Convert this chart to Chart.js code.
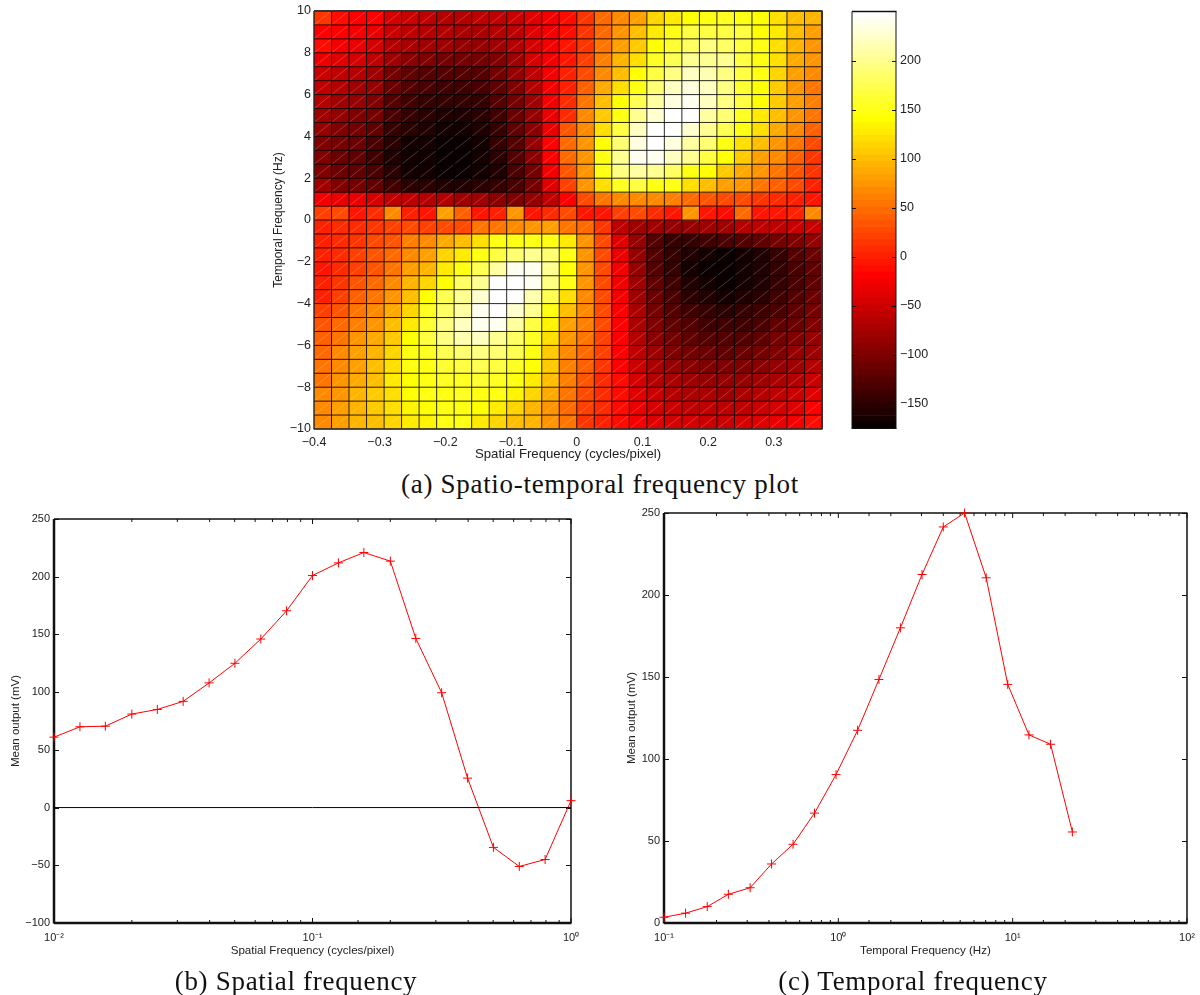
<!DOCTYPE html>
<html>
<head>
<meta charset="utf-8">
<script src="https://cdn.jsdelivr.net/npm/chart.js@4"></script>
<style>
  html, body { margin: 0; padding: 0; background: #fff; }
  body { position: relative; width: 1200px; height: 995px; overflow: hidden; }
  canvas { position: absolute; }
  .caption {
    position: absolute;
    transform: translateX(-50%);
    white-space: nowrap;
    font-family: "Liberation Serif", serif;
    font-size: 27px;
    letter-spacing: 0.7px;
    color: #111;
  }
</style>
</head>
<body>
<canvas id="heat" width="580" height="468" style="left:268px;top:0"></canvas>
<canvas id="colorbar" width="110" height="440" style="left:845px;top:0"></canvas>
<canvas id="spatial" width="600" height="462" style="left:0;top:505px"></canvas>
<canvas id="temporal" width="600" height="465" style="left:610px;top:502px"></canvas>
<div class="caption" style="left:600px;top:469px">(a) Spatio-temporal frequency plot</div>
<div class="caption" style="left:296px;top:966px">(b) Spatial frequency</div>
<div class="caption" style="left:913px;top:966px">(c) Temporal frequency</div>
<script>
// cell edges of the spatio-temporal plot
const spatialEdges = [-0.4, -0.3733, -0.3467, -0.32, -0.2933, -0.2667, -0.24, -0.2133, -0.1867, -0.16, -0.1333, -0.1067, -0.08, -0.0533, -0.0267, 0, 0.0267, 0.0533, 0.08, 0.1067, 0.1333, 0.16, 0.1867, 0.2133, 0.24, 0.2667, 0.2933, 0.32, 0.3467, 0.3733];
const temporalEdges = [10, 9.333, 8.667, 8, 7.333, 6.667, 6, 5.333, 4.667, 4, 3.333, 2.667, 2, 1.333, 0.667, 0, -0.667, -1.333, -2, -2.667, -3.333, -4, -4.667, -5.333, -6, -6.667, -7.333, -8, -8.667, -9.333, -10];

// mean output per cell, top row first
const heatRows = [
  [15,-15,-16,-22,-48,-55,-60,-64,-66,-62,-58,-50,-38,-24,-12, 16,50,67,83,115,130,143,148,154,148,143,119,103,92],
  [-16,-21,-24,-32,-51,-61,-64,-67,-72,-72,-67,-56,-40,-24,-10, 13,50,76,98,124,146,165,170,170,165,143,124,98,83],
  [-12,-29,-32,-45,-64,-72,-77,-80,-83,-83,-77,-64,-45,-24,-8, 16,55,83,108,143,162,180,191,180,165,145,119,92,76],
  [-32,-40,-48,-61,-80,-92,-99,-104,-108,-108,-96,-77,-48,-24,-6, 19,60,92,119,152,175,197,202,197,170,146,119,87,71],
  [-51,-61,-67,-80,-104,-120,-124,-128,-128,-124,-108,-88,-61,-24,0, 24,67,103,143,165,191,218,213,191,170,144,114,83,64],
  [-56,-67,-77,-88,-112,-128,-134,-137,-137,-134,-120,-96,-67,-24,3, 40,84,119,148,186,218,234,218,191,159,140,108,76,55],
  [-67,-77,-83,-96,-123,-137,-144,-148,-147,-144,-128,-104,-77,-29,6, 51,98,139,175,207,234,240,218,191,165,143,108,80,60],
  [-77,-83,-96,-108,-131,-147,-152,-156,-156,-152,-136,-112,-88,-32,8, 64,108,148,197,229,250,245,207,186,156,130,98,71,51],
  [-88,-96,-104,-120,-144,-155,-160,-164,-163,-156,-144,-120,-92,-35,32, 64,119,165,218,250,250,229,197,175,146,119,87,64,40],
  [-96,-108,-115,-131,-153,-164,-166,-171,-175,-164,-148,-123,-88,-16,48, 71,143,186,234,250,234,207,186,148,119,98,76,51,24],
  [-99,-115,-120,-136,-156,-166,-167,-172,-175,-166,-152,-128,-92,-16,44, 76,146,197,243,240,223,197,170,140,108,83,64,40,16],
  [-96,-112,-120,-131,-152,-163,-166,-171,-169,-167,-156,-132,-104,-29,35, 76,145,191,207,202,180,148,140,108,87,71,51,32,16],
  [-80,-99,-108,-120,-136,-152,-153,-160,-156,-152,-144,-131,-108,-40,19, 71,119,154,165,146,148,119,98,83,71,55,40,24,3],
  [-24,-32,-35,-45,-56,-61,-64,-67,-77,-80,-92,-96,-83,-56,-16, 24,51,64,67,64,60,48,35,29,24,13,6,0,-3],
  [22,28,-8,8,70,2,-4,78,38,-6,-2,72,-6,10,30, -5,-5,20,28,5,-8,72,-8,-12,45,-6,-8,0,70],
  [3,8,8,16,19,24,19,24,29,51,55,64,76,83,55, 45,16,-56,-77,-80,-84,-84,-80,-77,-65,-62,-56,-52,-50],
  [0,8,13,28,32,60,64,87,103,119,145,146,148,148,124, 71,24,-40,-88,-128,-144,-147,-140,-132,-128,-120,-104,-96,-88],
  [0,8,19,32,44,67,83,111,127,148,170,186,197,186,145, 71,28,-32,-88,-128,-147,-160,-167,-170,-163,-156,-144,-128,-112],
  [-3,8,19,35,51,83,95,127,146,175,207,240,238,197,143, 71,30,-28,-83,-124,-144,-163,-173,-172,-163,-156,-144,-131,-120],
  [0,16,32,44,67,92,111,143,180,202,245,250,238,191,144, 71,30,-26,-80,-120,-140,-158,-165,-174,-168,-158,-146,-132,-118],
  [3,19,40,55,76,103,143,175,197,229,250,250,213,175,119, 68,28,-24,-78,-115,-135,-150,-160,-165,-160,-150,-140,-125,-112],
  [19,32,51,67,87,111,154,180,207,240,250,229,197,145,103, 64,26,-22,-74,-108,-125,-138,-148,-152,-148,-140,-130,-118,-105],
  [32,44,60,76,98,127,159,191,218,240,238,207,170,135,80, 60,24,-20,-70,-100,-116,-128,-136,-142,-138,-130,-120,-110,-98],
  [40,55,71,87,108,143,165,191,213,218,202,180,154,119,71, 55,20,-18,-64,-92,-106,-118,-124,-128,-124,-118,-108,-98,-88],
  [48,64,80,95,114,146,156,175,186,191,186,175,148,110,66, 48,18,-16,-58,-82,-96,-106,-112,-116,-112,-106,-98,-88,-78],
  [51,67,83,98,119,146,148,159,170,175,165,154,143,105,62, 42,14,-16,-52,-74,-84,-94,-98,-102,-100,-94,-86,-76,-66],
  [55,71,87,103,124,143,145,154,156,159,156,145,130,100,58, 36,10,-15,-46,-64,-74,-82,-86,-88,-86,-82,-74,-64,-54],
  [64,76,92,108,119,140,144,148,152,148,145,135,114,87,52, 30,8,-14,-40,-54,-64,-70,-74,-76,-74,-68,-60,-50,-38],
  [67,83,95,108,119,135,143,146,145,140,130,114,95,71,44, 22,6,-13,-32,-46,-54,-58,-62,-62,-60,-54,-46,-36,-18],
  [67,80,92,103,114,127,135,146,146,124,114,103,92,76,51, 16,4,-10,-24,-36,-44,-48,-50,-50,-48,-42,-34,-24,-14]
];

const spatialTicks = [-0.4, -0.3, -0.2, -0.1, 0, 0.1, 0.2, 0.3];
const temporalTicks = [-10, -8, -6, -4, -2, 0, 2, 4, 6, 8, 10];
const colorbarTicks = [-150, -100, -50, 0, 50, 100, 150, 200];
const heatMin = -175.5;
const heatMax = 250;

// (b) spatial frequency tuning
const spatialFreq = [0.01, 0.0126, 0.0158, 0.02, 0.0251, 0.0316, 0.0398, 0.0501, 0.0631, 0.0794, 0.1, 0.126, 0.158, 0.2, 0.251, 0.316, 0.398, 0.501, 0.631, 0.794, 1];
const spatialOutput = [61, 70, 70.5, 81, 85, 92, 108, 125, 146, 170.5, 201, 212, 221, 213.5, 146.5, 99.5, 25.5, -34.5, -51, -45, 6];
const zeroLineX = [0.01, 1];
const zeroLineY = [0, 0];

// (c) temporal frequency tuning
const temporalFreq = [0.1, 0.133, 0.177, 0.234, 0.312, 0.414, 0.55, 0.73, 0.97, 1.29, 1.71, 2.27, 3.02, 4.0, 5.3, 7.05, 9.37, 12.4, 16.5, 22];
const temporalOutput = [3.5, 6, 10, 17.5, 21.5, 36, 48, 67, 90.5, 117.5, 148.5, 180, 212.5, 241.5, 250, 210.5, 145.5, 114.7, 109, 55.5];

const fontFamily = '"Liberation Sans", Arial, sans-serif';
const textColor = '#222';
const hiddenGrid = { display: false, drawTicks: false };

Chart.defaults.animation = false;
Chart.defaults.responsive = false;
Chart.defaults.devicePixelRatio = 1;
Chart.defaults.font.family = fontFamily;
Chart.defaults.color = textColor;
Chart.defaults.plugins.legend.display = false;
Chart.defaults.plugins.tooltip.enabled = false;

// MATLAB hot(64)
const hotColor = function(index) {
  const r = Math.min((index + 1) / 24, 1);
  const g = Math.min(Math.max((index + 1 - 24) / 24, 0), 1);
  const b = Math.max((index + 1 - 48) / 16, 0);
  return `rgb(${Math.round(r * 255)},${Math.round(g * 255)},${Math.round(b * 255)})`;
}

const colorForValue = function(value) {
  const index = Math.floor((value - heatMin) / (heatMax - heatMin) * 64);
  return hotColor(Math.min(Math.max(index, 0), 63));
}

const minusLabel = (value) => String(value).replace('-', '\u2212');

const superDigits = { '-': '\u207b', '0': '\u2070', '1': '\u00b9', '2': '\u00b2' };
const decadeLabel = function(value) {
  const power = Math.log10(value);
  if (Math.abs(power - Math.round(power)) > 1e-9) { return ''; }
  return '10' + String(Math.round(power)).split('').map((c) => superDigits[c]).join('');
}

const drawFrame = function(chart, sides) {
  const { ctx, chartArea: area } = chart;
  ctx.save();
  ctx.strokeStyle = sides.color;
  const line = (x0, y0, x1, y1, width) => {
    ctx.lineWidth = width;
    ctx.beginPath();
    ctx.moveTo(x0, y0);
    ctx.lineTo(x1, y1);
    ctx.stroke();
  };
  line(area.left, area.top, area.right + 0.5, area.top, sides.top);
  line(area.right, area.top, area.right, area.bottom, sides.right);
  line(area.left, area.bottom, area.right + 0.5, area.bottom, sides.bottom);
  line(area.left, area.top, area.left, area.bottom + 0.5, sides.left);
  ctx.restore();
}

// ticks point inwards on all four sides, as in MATLAB
const drawInnerTicks = function(chart, major, minor) {
  const { ctx, chartArea: area, scales } = chart;
  ctx.save();
  ctx.strokeStyle = '#111';
  ctx.lineWidth = 1;
  ctx.beginPath();
  if (scales.x && scales.x.type === 'logarithmic') {
    scales.x.ticks.forEach((tick) => {
      const x = scales.x.getPixelForValue(tick.value);
      const size = decadeLabel(tick.value) ? major : minor;
      ctx.moveTo(x, area.top);
      ctx.lineTo(x, area.top + size);
      ctx.moveTo(x, area.bottom);
      ctx.lineTo(x, area.bottom - size);
    });
  }
  scales.y.ticks.forEach((tick) => {
    const y = Math.round(scales.y.getPixelForValue(tick.value)) + 0.5;
    ctx.moveTo(area.left, y);
    ctx.lineTo(area.left + major, y);
    ctx.moveTo(area.right, y);
    ctx.lineTo(area.right - major, y);
  });
  ctx.stroke();
  ctx.restore();
}

const cellLines = {
  id: 'cellLines',
  afterDatasetsDraw(chart) {
    const { ctx, chartArea: area, scales } = chart;
    const xs = spatialEdges.map((v) => scales.x.getPixelForValue(v));
    const ys = temporalEdges.map((v) => scales.y.getPixelForValue(v));
    ctx.save();
    ctx.lineWidth = 0.7;
    ctx.strokeStyle = 'rgba(255,255,255,0.3)';
    ctx.beginPath();
    for (let i = 0; i < xs.length - 1; i++) {
      for (let j = 0; j < ys.length - 1; j++) {
        ctx.moveTo(xs[i], ys[j + 1]);
        ctx.lineTo(xs[i + 1], ys[j]);
      }
    }
    ctx.stroke();
    ctx.lineWidth = 0.85;
    ctx.strokeStyle = '#000';
    ctx.beginPath();
    xs.forEach((x) => { ctx.moveTo(x, area.top); ctx.lineTo(x, area.bottom); });
    ys.forEach((y) => { ctx.moveTo(area.left, y); ctx.lineTo(area.right, y); });
    ctx.stroke();
    ctx.restore();
    drawFrame(chart, { color: '#333', top: 2, right: 2, bottom: 1.5, left: 1 });
  }
};

const tuningAxes = {
  id: 'tuningAxes',
  beforeDatasetsDraw(chart) {
    drawInnerTicks(chart, 5, 3);
    drawFrame(chart, { color: '#111', top: 1.5, right: 1.5, bottom: 2.5, left: 2.5 });
  }
};

const colorbarAxes = {
  id: 'colorbarAxes',
  afterDatasetsDraw(chart) {
    drawInnerTicks(chart, 4, 0);
    drawFrame(chart, { color: '#111', top: 1.5, right: 1, bottom: 1, left: 1 });
  }
};

new Chart(document.getElementById('heat'), {
  type: 'bar',
  data: {
    datasets: heatRows.map((row, r) => ({
      data: row.map((value, c) => ({
        x: (spatialEdges[c] + spatialEdges[c + 1]) / 2,
        y: [temporalEdges[r + 1], temporalEdges[r]]
      })),
      backgroundColor: row.map(colorForValue),
      borderWidth: 0,
      grouped: false,
      barPercentage: 1,
      categoryPercentage: 1
    }))
  },
  options: {
    layout: { padding: { top: 11, right: 26, bottom: 0, left: 0 } },
    scales: {
      x: {
        type: 'linear',
        min: -0.4,
        max: 0.3733,
        offset: false,
        grid: hiddenGrid,
        border: { display: false },
        afterBuildTicks: (scale) => { scale.ticks = spatialTicks.map((value) => ({ value })); },
        afterFit: (scale) => { scale.height = 39; },
        ticks: { maxRotation: 0, autoSkip: false, padding: 6, font: { size: 12.5 }, color: textColor, callback: minusLabel },
        title: { display: true, text: 'Spatial Frequency (cycles/pixel)', font: { size: 13.2 }, color: textColor, padding: { top: 2, bottom: 6 } }
      },
      y: {
        min: -10,
        max: 10,
        grid: hiddenGrid,
        border: { display: false },
        afterBuildTicks: (scale) => { scale.ticks = temporalTicks.map((value) => ({ value })); },
        afterFit: (scale) => { scale.width = 46; },
        ticks: { autoSkip: false, padding: 3, font: { size: 12.5 }, color: textColor, callback: minusLabel },
        title: { display: true, text: 'Temporal Frequency (Hz)', font: { size: 12 }, color: textColor, padding: { top: 3, bottom: 0 } }
      }
    }
  },
  plugins: [cellLines]
});

const colorbarLevels = Array.from({ length: 64 }, (_, i) => i);
new Chart(document.getElementById('colorbar'), {
  type: 'bar',
  data: {
    labels: [''],
    datasets: colorbarLevels.map((i) => ({
      data: [[heatMin + (heatMax - heatMin) * i / 64, heatMin + (heatMax - heatMin) * (i + 1) / 64]],
      backgroundColor: hotColor(i),
      borderWidth: 0,
      grouped: false,
      barPercentage: 1,
      categoryPercentage: 1
    }))
  },
  options: {
    layout: { padding: { top: 11, right: 0, bottom: 11, left: 7 } },
    scales: {
      x: { display: false },
      y: {
        position: 'right',
        min: heatMin,
        max: heatMax,
        grid: hiddenGrid,
        border: { display: false },
        afterBuildTicks: (scale) => { scale.ticks = colorbarTicks.map((value) => ({ value })); },
        afterFit: (scale) => { scale.width = 59; },
        ticks: { autoSkip: false, padding: 4, font: { size: 12.5 }, color: textColor, callback: minusLabel }
      }
    }
  },
  plugins: [colorbarAxes]
});

const tuningChart = function(id, freq, output, xMin, xMax, yMin, yMax, xTitle, top, titleInset, extra) {
  return new Chart(document.getElementById(id), {
    type: 'line',
    data: {
      datasets: extra.concat([{
        data: freq.map((x, i) => ({ x, y: output[i] })),
        borderColor: '#f00',
        borderWidth: 1,
        tension: 0,
        pointStyle: 'cross',
        pointRadius: 4.5,
        pointBorderColor: '#f00',
        pointBorderWidth: 1,
        clip: false
      }])
    },
    options: {
      layout: { padding: { top, right: id === 'spatial' ? 29 : 23, bottom: 0, left: 0 } },
      scales: {
        x: {
          type: 'logarithmic',
          min: xMin,
          max: xMax,
          grid: hiddenGrid,
          border: { display: false },
          afterFit: (scale) => { scale.height = 44; },
          ticks: { autoSkip: false, maxRotation: 0, padding: 8, font: { size: 11 }, color: textColor, callback: decadeLabel },
          title: { display: true, text: xTitle, font: { size: 11.6 }, color: textColor, padding: { top: 2, bottom: 9 } }
        },
        y: {
          type: 'linear',
          min: yMin,
          max: yMax,
          grid: hiddenGrid,
          border: { display: false },
          afterFit: (scale) => { scale.width = 54; },
          ticks: { stepSize: 50, autoSkip: false, padding: 4, font: { size: 11 }, color: textColor, callback: minusLabel },
          title: { display: true, text: 'Mean output (mV)', font: { size: 11.5 }, color: textColor, padding: { top: titleInset, bottom: 0 } }
        }
      }
    },
    plugins: [tuningAxes]
  });
}

tuningChart('spatial', spatialFreq, spatialOutput, 0.01, 1, -100, 250, 'Spatial Frequency (cycles/pixel)', 14, 9, [{
  data: zeroLineX.map((x, i) => ({ x, y: zeroLineY[i] })),
  borderColor: '#000',
  borderWidth: 1,
  pointRadius: 0
}]);
tuningChart('temporal', temporalFreq, temporalOutput, 0.1, 100, 0, 250, 'Temporal Frequency (Hz)', 11, 15, []);
</script>
</body>
</html>
